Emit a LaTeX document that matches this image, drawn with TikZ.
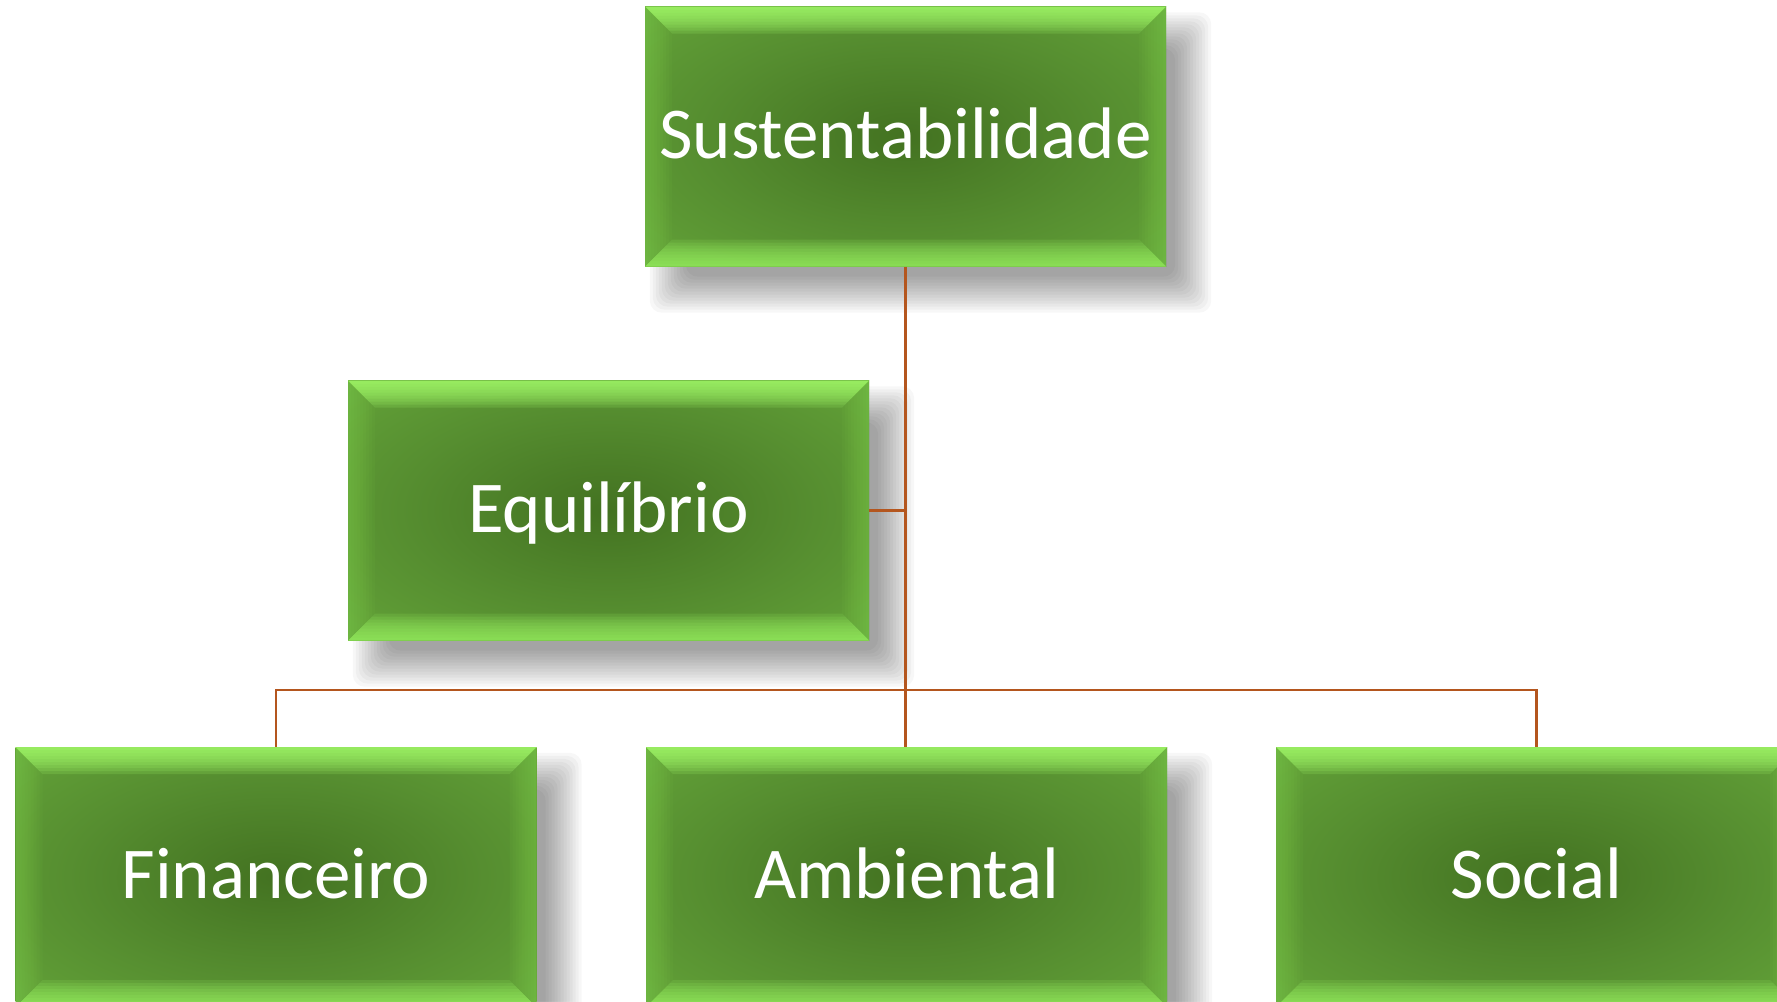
\documentclass[tikz,border=0pt]{standalone}
\usepackage{fontspec}
\setmainfont{Carlito}
\definecolor{gc}{HTML}{437221}
\definecolor{gm}{HTML}{568E30}
\definecolor{ge}{HTML}{6AAE3D}
\definecolor{bt}{HTML}{A6FF6C}
\definecolor{bb}{HTML}{9AF462}
\definecolor{bs}{HTML}{86D852}
\definecolor{conncol}{HTML}{B4561E}
\pgfdeclarelayer{bg}
\pgfsetlayers{bg,main}
\pgfdeclareradialshading{boxshade}{\pgfpoint{0bp}{0bp}}{color(0bp)=(gc); color(20bp)=(gm); color(44bp)=(ge); color(50bp)=(ge)}
\tikzset{
  greenbox/.style={rectangle, minimum width=521pt, minimum height=260pt, inner sep=0pt,
    text height=43pt, text depth=0pt,
    text=white, font=\fontsize{73}{88}\selectfont,
    shading=boxshade,
    path picture={
      \def\pb{path picture bounding box}
      \foreach \d in {3,6,...,27}{
        \fill[bt, fill opacity=0.17] (\pb.north west) -- (\pb.north east) -- ([shift={(-\d,-\d)}]\pb.north east) -- ([shift={(\d,-\d)}]\pb.north west) -- cycle;
        \fill[bb, fill opacity=0.15] (\pb.south west) -- (\pb.south east) -- ([shift={(-\d,\d)}]\pb.south east) -- ([shift={(\d,\d)}]\pb.south west) -- cycle;
        \fill[bs, fill opacity=0.06] (\pb.north west) -- ([shift={(\d,-\d)}]\pb.north west) -- ([shift={(\d,\d)}]\pb.south west) -- (\pb.south west) -- cycle;
        \fill[bs, fill opacity=0.06] (\pb.north east) -- ([shift={(-\d,-\d)}]\pb.north east) -- ([shift={(-\d,\d)}]\pb.south east) -- (\pb.south east) -- cycle;
      }
    }},
  shadowlayer/.style={fill=black, fill opacity=0.032, rounded corners=12pt},
  conn/.style={draw=conncol, line width=2.2pt}
}
\newcommand{\boxshadow}[1]{%
  \foreach \e in {20,17,...,-16}{
    \fill[shadowlayer] ([shift={(25-\e,-26+\e)}]#1.north west) rectangle ([shift={(25+\e,-26-\e)}]#1.south east);
  }}
\begin{document}
\begin{tikzpicture}[x=1pt,y=1pt]
\clip (0,0) rectangle (1777,-1001);
\node[greenbox] (sust) at (905.5,-136.5) {Sustentabilidade};
\node[greenbox] (equil) at (608.5,-510.5) {Equilíbrio};
\node[greenbox] (fin) at (276,-877) {Financeiro};
\node[greenbox] (amb) at (906.5,-877) {Ambiental};
\node[greenbox] (soc) at (1536.5,-877) {Social};
\begin{pgfonlayer}{bg}
  \fill[white] (0,0) rectangle (1777,-1001);
  \boxshadow{sust}
  \boxshadow{equil}
  \boxshadow{fin}
  \boxshadow{amb}
  \boxshadow{soc}
\end{pgfonlayer}
\coordinate (hub) at (906,-690);
\draw[conn] (sust.south) -- (sust.south |- amb.north);
\draw[conn] (equil.east) -- (equil.east -| sust.south);
\draw[conn] (fin.north) |- (hub) -| (soc.north);
\end{tikzpicture}
\end{document}
